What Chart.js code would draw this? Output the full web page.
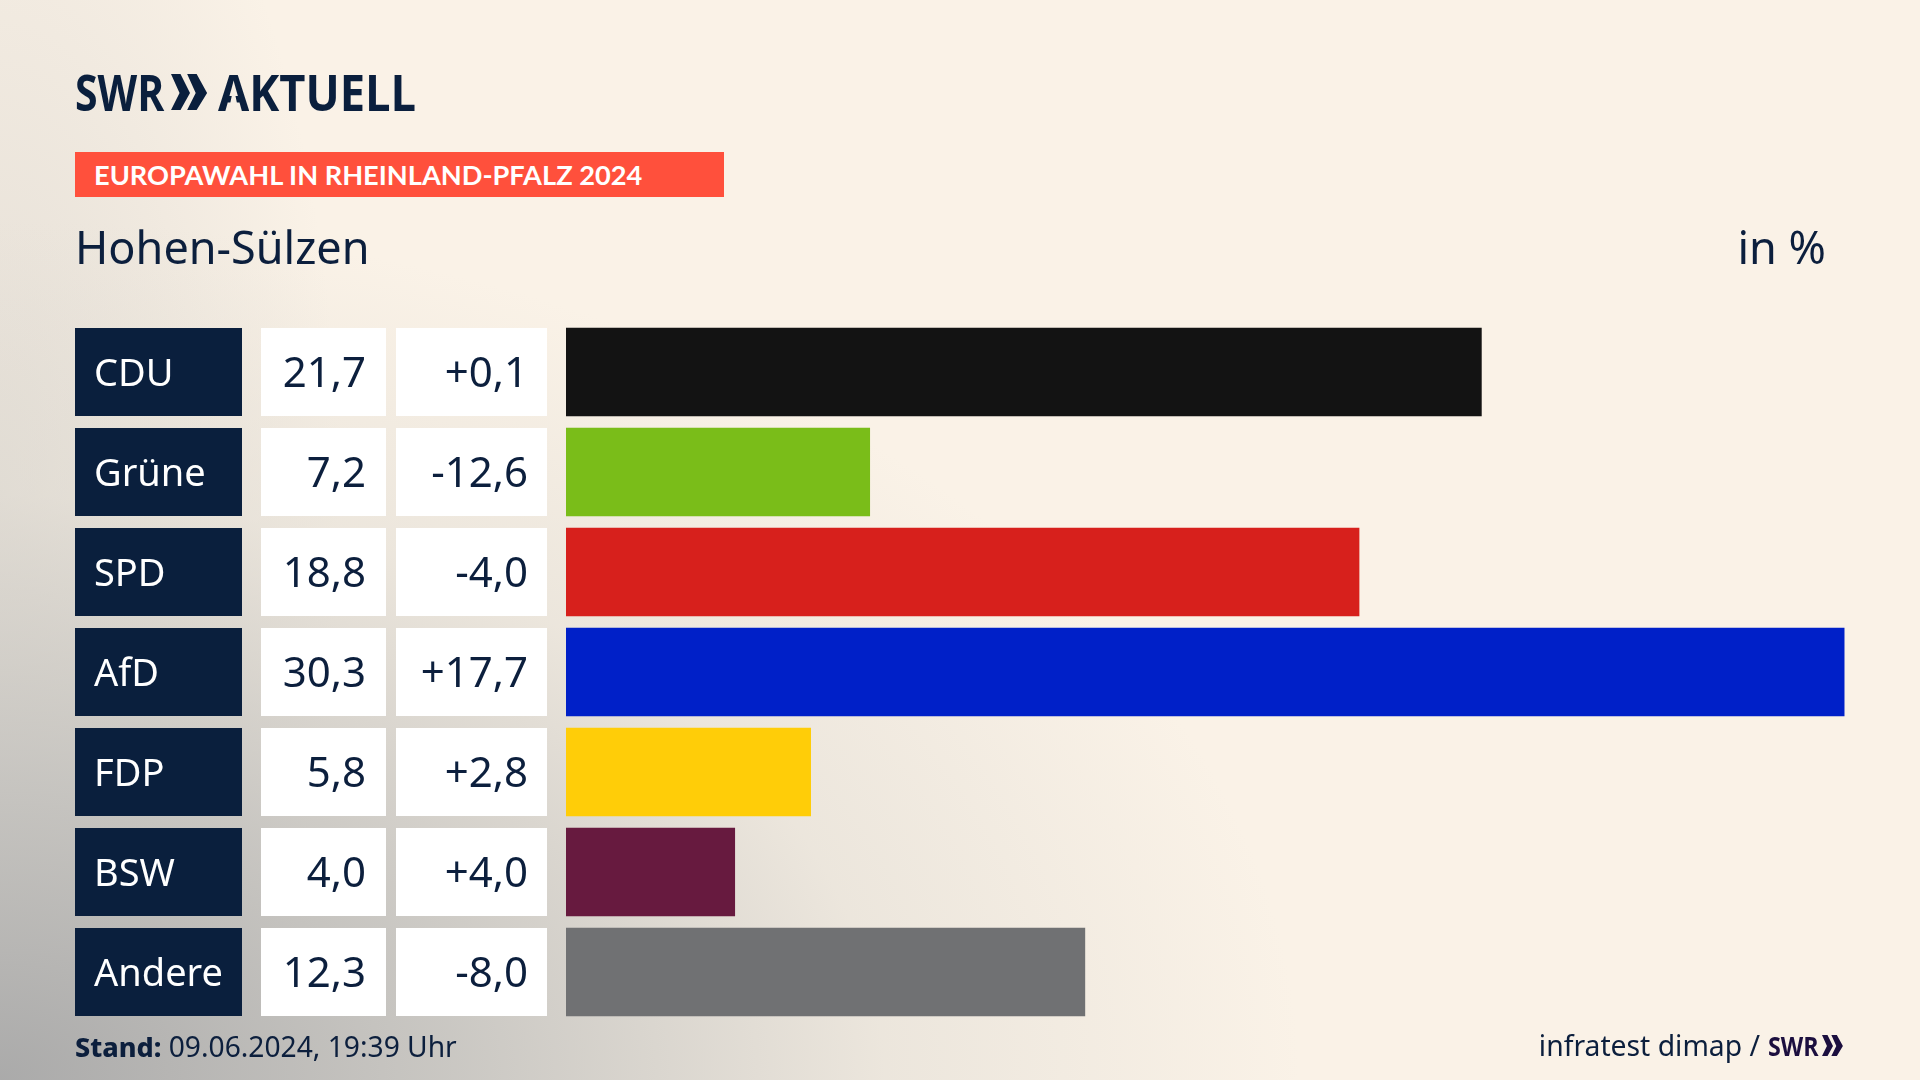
<!DOCTYPE html>
<html lang="de"><head><meta charset="utf-8">
<script src="https://cdn.jsdelivr.net/npm/chart.js@4"></script>
<style>
html,body{margin:0;padding:0;width:1920px;height:1080px;overflow:hidden}
body{position:relative;font-family:"Noto Sans",sans-serif;color:#0c1f3d;background:
 radial-gradient(ellipse 1300px 860px at 0 1080px,rgba(168,168,168,.97) 0%,rgba(190,189,186,.8) 35%,rgba(222,218,210,.5) 68%,rgba(250,242,231,0) 100%),
 radial-gradient(ellipse 340px 800px at 0 500px,rgba(200,197,192,.45) 0%,rgba(250,242,231,0) 100%),
 #faf2e7}
canvas{position:absolute;left:0;top:0}
.t{position:absolute;white-space:nowrap;line-height:1}
.logo{font:700 50px/1 "Open Sans",sans-serif;color:#0a1f3d;transform-origin:0 0}
#banner{position:absolute;left:75px;top:152px;width:649px;height:45px;background:#ff503c}
#bannerT{left:94px;top:161px;font:700 27.2px/1 Lato,sans-serif;color:#fff}
#place{left:75px;top:224px;font:400 45px/1 "Noto Sans",sans-serif}
#unit{right:94px;top:224px;font:400 45px/1 "Noto Sans",sans-serif}
#stand{left:75px;top:1032px;font:400 28.2px/1 "Noto Sans",sans-serif}
#stand b{font-weight:800;font-size:27px}
#src{right:160px;top:1031px;font:400 28.3px/1 "Noto Sans",sans-serif}
#swr2{left:1768px;top:1032px;font:700 27px/1 "Open Sans",sans-serif;color:#1c0f3f;transform-origin:0 0;transform:scaleX(.86)}
svg{position:absolute}
</style></head><body>
<canvas id="c" width="1920" height="1080" style="width:1920px;height:1080px"></canvas>
<div class="t logo" id="logo" style="left:75px;top:67px;transform:scaleX(.82)">SWR</div>
<svg style="left:171px;top:74px" width="38" height="38" viewBox="0 0 40 40"><path d="M0 0 L10 0 L20 20 L10 38 L0 38 L9 20Z M17 0 L27 0 L38 20 L27 38 L17 38 L26 20Z" fill="#0a1f3d"/></svg>
<div class="t logo" id="logo2" style="left:218px;top:67px;transform:scaleX(.905)"><span style="display:inline-block;clip-path:polygon(0 0,100% 0,100% 100%,70% 100%,50% 40%,30% 100%,0 100%)">A</span>KTUELL</div>
<div id="banner"></div>
<div class="t" id="bannerT">EUROPAWAHL IN RHEINLAND-PFALZ 2024</div>
<div class="t" id="place">Hohen-Sülzen</div>
<div class="t" id="unit">in %</div>
<div class="t" id="stand"><b>Stand:</b> 09.06.2024, 19:39 Uhr</div>
<div class="t" id="src">infratest dimap /</div>
<div class="t" id="swr2">SWR</div>
<svg style="left:1822px;top:1035px" width="22" height="22" viewBox="0 0 40 40"><path d="M0 0 L10 0 L20 20 L10 38 L0 38 L9 20Z M17 0 L27 0 L38 20 L27 38 L17 38 L26 20Z" fill="#1c0f3f"/></svg>
<script>
const parties=["CDU","Grüne","SPD","AfD","FDP","BSW","Andere"];
const shares=[21.7,7.2,18.8,30.3,5.8,4.0,12.3];
const changes=["+0,1","-12,6","-4,0","+17,7","+2,8","+4,0","-8,0"];
const barColors=["#131313","#7abd19","#d7201c","#0020c8","#ffcd08","#671a3f","#707173"];
const NAVY="#0a1f3d";
const cells={
 id:"cells",
 beforeDraw(chart){
  const {ctx,scales:{y}}=chart;
  if(!y._labelsMoved){y.getLabelItems().forEach(it=>{it.options.translation[1]+=3});y._labelsMoved=true;}
  ctx.save();
  const h=88;
  parties.forEach((p,i)=>{
   const cy=y.getPixelForValue(i), top=cy-h/2;
   ctx.fillStyle=NAVY; ctx.fillRect(75,top,167,h);
   ctx.fillStyle="#fff"; ctx.fillRect(261,top,125,h); ctx.fillRect(396,top,151,h);
   ctx.fillStyle="#0c1f3d"; ctx.font='400 42px "Noto Sans"'; ctx.textAlign="right"; ctx.textBaseline="middle";
   ctx.fillText(shares[i].toFixed(1).replace(".",","),366,cy+3);
   ctx.fillText(changes[i],528,cy+3);
  });
  ctx.restore();
 }
};
new Chart(document.getElementById("c"),{
 type:"bar",
 data:{labels:parties,datasets:[{data:shares,backgroundColor:barColors,barThickness:88,borderWidth:0}]},
 plugins:[cells],
 options:{
  indexAxis:"y",responsive:false,animation:false,devicePixelRatio:1,
  layout:{padding:{left:94,right:75,top:322,bottom:58}},
  plugins:{legend:{display:false},tooltip:{enabled:false},title:{display:false}},
  scales:{
   x:{display:false,min:0,max:30.32},
   y:{afterFit(s){s.width=472},grid:{display:false},border:{display:false},
      ticks:{color:"#fff",crossAlign:"far",padding:0,font:{family:"'Noto Sans'",size:38,weight:"400"}}}
  }
 }
});
</script>
</body></html>
